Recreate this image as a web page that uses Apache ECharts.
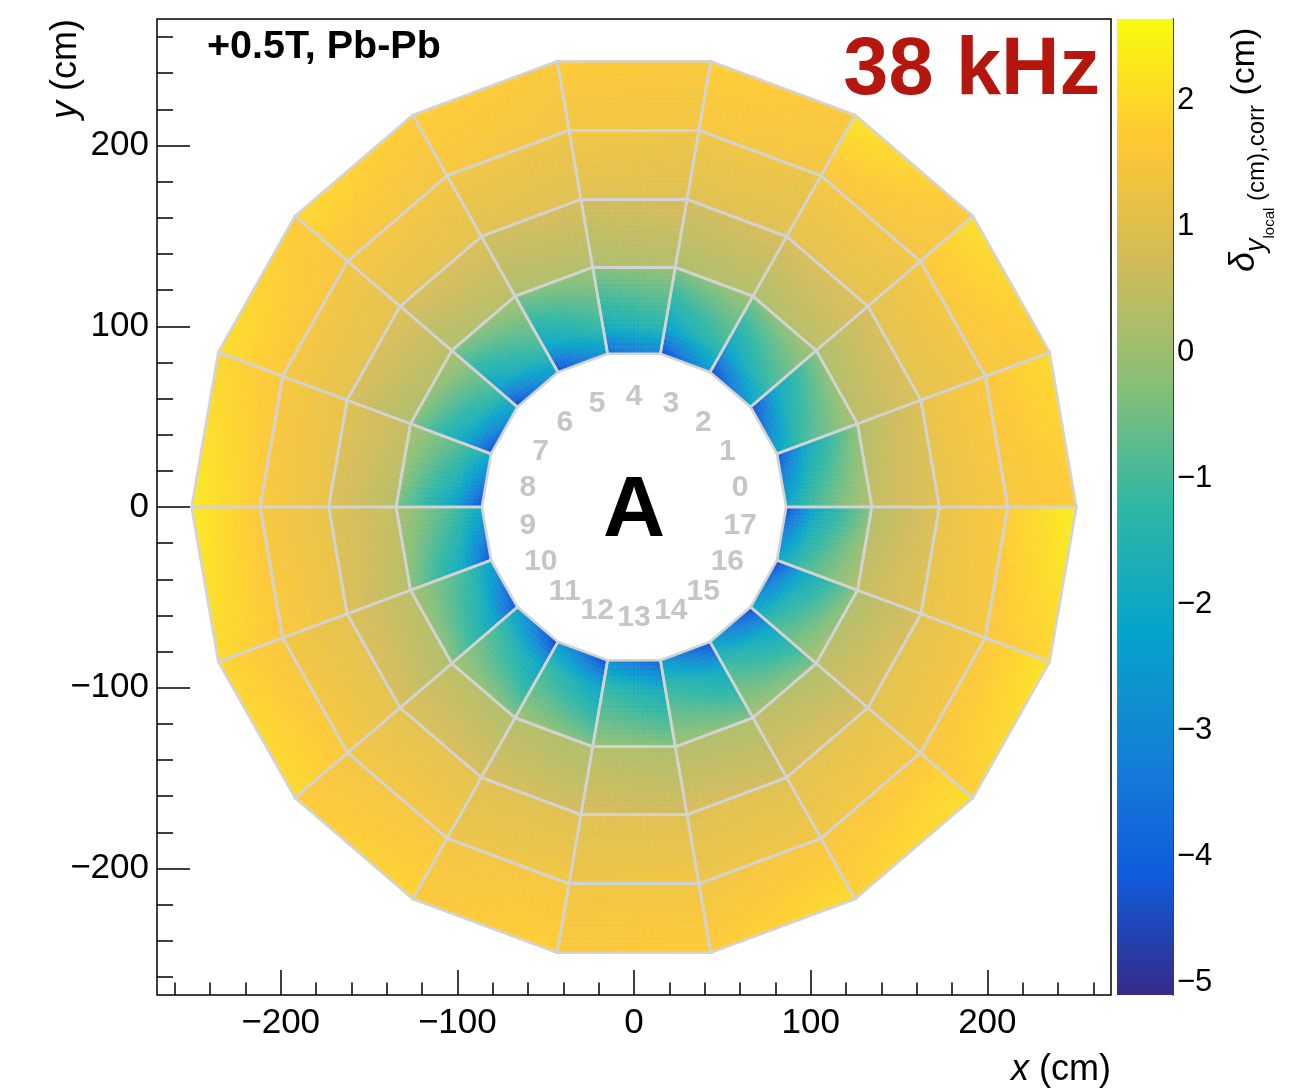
<!DOCTYPE html>
<html>
<head>
<meta charset="utf-8">
<script src="https://cdn.jsdelivr.net/npm/echarts@6/dist/echarts.min.js"></script>
<style>
  html, body { margin: 0; padding: 0; background: #fff; }
  #chart { width: 1307px; height: 1092px; }
</style>
</head>
<body>
<div id="chart"></div>
<script>
// TPC A side, local-y distortion correction per readout chamber (IROC, OROC1..3), 18 sectors

const sectorIds = [0, 1, 2, 3, 4, 5, 6, 7, 8, 9, 10, 11, 12, 13, 14, 15, 16, 17];

// chamber boundaries, distance from beam axis to the chamber edge at sector centre (cm)
const chamberEdges = [84.8, 132.6, 170.2, 208.4, 246.6];
// radial sampling nodes inside the IROC (cm)
const irocNodeRadii = [84.8, 101.0, 132.6];

// δy (cm) along the low-φ and high-φ side of every sector, inner -> outer
const irocLowEdge = [
  [-2.0, -0.9, 0.3], [-2.2, -1.0, 0.2], [-2.3, -1.0, 0.1], [-2.5, -1.1, 0.0], [-3.0, -1.3, -0.1], [-2.5, -1.1, 0.0],
  [-2.3, -1.0, 0.1], [-2.2, -1.0, 0.2], [-2.0, -0.9, 0.2], [-2.0, -0.9, 0.2], [-2.2, -1.0, 0.1], [-2.3, -1.0, 0.1],
  [-2.5, -1.1, 0.0], [-2.8, -1.2, -0.1], [-2.5, -1.1, 0.0], [-2.3, -1.0, 0.1], [-2.2, -1.0, 0.2], [-2.0, -0.9, 0.3]
];
const irocHighEdge = [
  [-4.4, -2.1, -0.2], [-4.6, -2.2, -0.3], [-4.7, -2.3, -0.4], [-4.6, -2.2, -0.4], [-3.8, -1.8, -0.3], [-4.6, -2.2, -0.4],
  [-4.7, -2.3, -0.4], [-4.6, -2.2, -0.3], [-4.5, -2.2, -0.4], [-4.4, -2.1, -0.3], [-4.6, -2.2, -0.3], [-4.8, -2.3, -0.4],
  [-4.6, -2.2, -0.4], [-4.1, -1.9, -0.3], [-4.6, -2.2, -0.4], [-4.7, -2.3, -0.4], [-4.6, -2.2, -0.3], [-4.5, -2.1, -0.3]
];
const oroc1LowEdge = [
  [0.5, 1.0], [0.4, 0.9], [0.4, 0.9], [0.3, 0.8], [0.3, 0.8], [0.3, 0.8],
  [0.4, 0.9], [0.4, 0.9], [0.5, 1.0], [0.5, 1.0], [0.4, 0.9], [0.4, 0.9],
  [0.3, 0.8], [0.3, 0.8], [0.3, 0.8], [0.4, 0.9], [0.4, 0.9], [0.5, 1.0]
];
const oroc1HighEdge = [
  [0.3, 0.9], [0.2, 0.8], [0.2, 0.8], [0.2, 0.7], [0.2, 0.7], [0.2, 0.7],
  [0.2, 0.8], [0.2, 0.8], [0.3, 0.9], [0.3, 0.9], [0.2, 0.8], [0.2, 0.8],
  [0.2, 0.7], [0.2, 0.7], [0.2, 0.7], [0.2, 0.8], [0.2, 0.8], [0.3, 0.9]
];
const oroc2LowEdge = [
  [1.2, 1.5], [1.1, 1.4], [1.1, 1.4], [1.0, 1.3], [1.0, 1.3], [1.0, 1.3],
  [1.1, 1.4], [1.1, 1.4], [1.2, 1.5], [1.2, 1.5], [1.1, 1.4], [1.1, 1.4],
  [1.0, 1.3], [1.0, 1.3], [1.0, 1.3], [1.1, 1.4], [1.1, 1.4], [1.2, 1.5]
];
const oroc2HighEdge = [
  [1.2, 1.6], [1.1, 1.5], [1.1, 1.5], [1.0, 1.4], [1.0, 1.4], [1.0, 1.4],
  [1.1, 1.5], [1.1, 1.5], [1.2, 1.6], [1.2, 1.6], [1.1, 1.5], [1.1, 1.5],
  [1.0, 1.4], [1.0, 1.4], [1.0, 1.4], [1.1, 1.5], [1.1, 1.5], [1.2, 1.6]
];
const oroc3LowEdge = [
  [1.5, 1.7], [1.5, 1.7], [1.4, 1.6], [1.4, 1.6], [1.4, 1.6], [1.4, 1.6],
  [1.4, 1.7], [1.5, 1.7], [1.6, 1.9], [1.6, 2.3], [1.5, 1.9], [1.4, 1.7],
  [1.4, 1.6], [1.4, 1.6], [1.4, 1.7], [1.5, 1.8], [1.5, 1.8], [1.6, 1.9]
];
const oroc3HighEdge = [
  [1.6, 2.0], [1.6, 2.1], [1.5, 2.2], [1.5, 1.8], [1.4, 1.7], [1.5, 1.8],
  [1.5, 2.0], [1.6, 2.1], [1.7, 2.3], [1.6, 2.0], [1.6, 2.0], [1.5, 1.9],
  [1.5, 1.8], [1.4, 1.7], [1.5, 2.0], [1.6, 2.1], [1.6, 2.2], [1.7, 2.4]
];

// axis ticks (cm) and colour-scale ticks (cm)
const xyMajorTicks = [-200, -100, 0, 100, 200];
const xyMinorTicks = [-260, -240, -220, -200, -180, -160, -140, -120, -100, -80, -60, -40, -20, 0,
  20, 40, 60, 80, 100, 120, 140, 160, 180, 200, 220, 240, 260];
const zTicks = [-5, -4, -3, -2, -1, 0, 1, 2];
const zRange = [-5.1, 2.65];

// kBird palette
const birdColors = ['#352a87', '#0f5cdd', '#1481d6', '#06a4ca', '#2eb7a4', '#87bf77', '#d1bb59', '#fec832', '#f9fb0e'];

const FONT = '"Liberation Sans", Arial, Helvetica, sans-serif';
const SECTOR_SPAN = Math.PI / 9;      // 20 degrees
const LABEL_RADIUS = 61;              // cm, ring of sector numbers

const chambers = [
  { radii: irocNodeRadii, low: irocLowEdge, high: irocHighEdge },
  { radii: [chamberEdges[1], chamberEdges[2]], low: oroc1LowEdge, high: oroc1HighEdge },
  { radii: [chamberEdges[2], chamberEdges[3]], low: oroc2LowEdge, high: oroc2HighEdge },
  { radii: [chamberEdges[3], chamberEdges[4]], low: oroc3LowEdge, high: oroc3HighEdge }
];

const cells = [];
sectorIds.forEach(function (s) {
  chambers.forEach(function (ch, k) {
    cells.push({ sector: s, chamber: k, radii: ch.radii, low: ch.low[s], high: ch.high[s] });
  });
});

// point on the straight chamber edge at distance `apothem`, fraction u from the low-φ side
function edgePoint(apothem, s, u) {
  const f0 = s * SECTOR_SPAN, f1 = f0 + SECTOR_SPAN;
  const rc = apothem / Math.cos(SECTOR_SPAN / 2);
  const x0 = rc * Math.cos(f0), y0 = rc * Math.sin(f0);
  const x1 = rc * Math.cos(f1), y1 = rc * Math.sin(f1);
  return [x0 + u * (x1 - x0), y0 + u * (y1 - y0)];
}

function zColor(v) {
  const t = Math.max(0, Math.min(1, (v - zRange[0]) / (zRange[1] - zRange[0])));
  return echarts.color.lerp(t, birdColors);
}

function renderChamberFill(params, api) {
  const c = cells[params.dataIndex];
  const children = [];
  const nu = 16;
  for (let n = 0; n < c.radii.length - 1; n++) {
    const ra = c.radii[n], rb = c.radii[n + 1];
    const nv = Math.max(4, Math.round((rb - ra) / 2.5));
    for (let j = 0; j < nv; j++) {
      const r0 = ra + (rb - ra) * j / nv, r1 = ra + (rb - ra) * (j + 1) / nv;
      const t = (j + 0.5) / nv;
      const vLow = c.low[n] * (1 - t) + c.low[n + 1] * t;
      const vHigh = c.high[n] * (1 - t) + c.high[n + 1] * t;
      for (let i = 0; i < nu; i++) {
        const u0 = i / nu, u1 = (i + 1) / nu, uc = (i + 0.5) / nu;
        const col = zColor(vLow * (1 - uc) + vHigh * uc);
        const pts = [edgePoint(r0, c.sector, u0), edgePoint(r0, c.sector, u1),
                     edgePoint(r1, c.sector, u1), edgePoint(r1, c.sector, u0)].map(function (p) { return api.coord(p); });
        children.push({ type: 'polygon', silent: true, shape: { points: pts },
          style: { fill: col, stroke: col, lineWidth: 0.8, opacity: 0.94 } });
      }
    }
  }
  return { type: 'group', children: children };
}

function renderChamberFrame(params, api) {
  const c = cells[params.dataIndex];
  const a = chamberEdges[c.chamber], b = chamberEdges[c.chamber + 1];
  const pts = [edgePoint(a, c.sector, 0), edgePoint(a, c.sector, 1),
               edgePoint(b, c.sector, 1), edgePoint(b, c.sector, 0)].map(function (p) { return api.coord(p); });
  return { type: 'polygon', silent: true, shape: { points: pts },
    style: { fill: null, stroke: '#d3d3d3', lineWidth: 2.6, lineJoin: 'miter' } };
}

function renderColorBar(params, api) {
  const p0 = api.coord([0, zRange[0]]);
  const p1 = api.coord([1, zRange[1]]);
  const stops = birdColors.map(function (c, i) { return { offset: i / (birdColors.length - 1), color: c }; });
  return { type: 'rect', silent: true,
    shape: { x: p0[0], y: p1[1], width: p1[0] - p0[0], height: p0[1] - p1[1] },
    style: { fill: new echarts.graphic.LinearGradient(0, 1, 0, 0, stops) } };
}

const minus = function (v) { return String(v).replace('-', '\u2212'); };

const sectorLabels = sectorIds.map(function (s) {
  const phi = (s + 0.5) * SECTOR_SPAN;
  return { name: String(s), value: [LABEL_RADIUS * Math.cos(phi), LABEL_RADIUS * Math.sin(phi)] };
});

// colour-axis title pieces, laid out along the rotated baseline
const measureCtx = document.createElement('canvas').getContext('2d');
function textWidth(str, style, size) {
  measureCtx.font = style + ' ' + size + 'px ' + FONT;
  return measureCtx.measureText(str).width;
}
const zTitleParts = [
  { text: '\u03b4', style: 'italic', size: 36, drop: 0 },
  { text: 'y', style: 'italic', size: 27, drop: 9 },
  { text: 'local', style: 'normal', size: 15, drop: 18 },
  { text: ' (cm),corr', style: 'normal', size: 24, drop: 9 },
  { text: ' (cm)', style: 'normal', size: 34, drop: 0 }
];
let cursor = 0;
const zTitleChildren = zTitleParts.map(function (p) {
  const el = { type: 'text', x: cursor, y: p.drop - 0.35 * p.size,
    style: { text: p.text, fontFamily: FONT, fontSize: p.size, fontStyle: p.style,
      fill: '#000', align: 'left', verticalAlign: 'middle' } };
  cursor += textWidth(p.text, p.style, p.size);
  return el;
});

const chart = echarts.init(document.getElementById('chart'), null, { renderer: 'canvas' });

const axisTextStyle = { color: '#000', fontFamily: FONT, fontSize: 35 };

chart.setOption({
  animation: false,
  backgroundColor: '#fff',
  grid: [
    { left: 157, top: 19, width: 954, height: 976, show: true, borderColor: '#000', borderWidth: 1.5, backgroundColor: 'transparent' },
    { left: 1117, top: 19, width: 56, height: 976, show: false }
  ],
  xAxis: [
    { gridIndex: 0, type: 'value', min: -270, max: 270, position: 'bottom',
      axisLine: { show: false, onZero: false }, splitLine: { show: false },
      axisTick: { show: true, inside: true, length: 25, customValues: xyMajorTicks, lineStyle: { color: '#000', width: 1.5 } },
      axisLabel: Object.assign({ customValues: xyMajorTicks, margin: 11, formatter: minus }, axisTextStyle) },
    { gridIndex: 0, type: 'value', min: -270, max: 270, position: 'bottom',
      axisLine: { show: false, onZero: false }, splitLine: { show: false },
      axisTick: { show: true, inside: true, length: 12.5, customValues: xyMinorTicks, lineStyle: { color: '#000', width: 1.5 } },
      axisLabel: { show: false } },
    { gridIndex: 1, type: 'value', min: 0, max: 1, show: false }
  ],
  yAxis: [
    { gridIndex: 0, type: 'value', min: -270, max: 270, position: 'left',
      axisLine: { show: false, onZero: false }, splitLine: { show: false },
      axisTick: { show: true, inside: true, length: 33, customValues: xyMajorTicks, lineStyle: { color: '#000', width: 1.5 } },
      axisLabel: Object.assign({ customValues: xyMajorTicks, margin: 8, formatter: minus }, axisTextStyle) },
    { gridIndex: 0, type: 'value', min: -270, max: 270, position: 'left',
      axisLine: { show: false, onZero: false }, splitLine: { show: false },
      axisTick: { show: true, inside: true, length: 16, customValues: xyMinorTicks, lineStyle: { color: '#000', width: 1.5 } },
      axisLabel: { show: false } },
    { gridIndex: 1, type: 'value', min: zRange[0], max: zRange[1], position: 'right',
      axisLine: { show: true, onZero: false, lineStyle: { color: '#000', width: 1.5 } }, splitLine: { show: false },
      axisTick: { show: true, inside: true, length: 31, customValues: zTicks, lineStyle: { color: '#000', width: 1.5 } },
      axisLabel: { customValues: zTicks, margin: 4, formatter: minus, color: '#000', fontFamily: FONT, fontSize: 31 } }
  ],
  series: [
    { type: 'custom', name: 'chamber fill', xAxisIndex: 0, yAxisIndex: 0, clip: false,
      renderItem: renderChamberFill, data: cells.map(function (c) { return [c.sector, c.chamber]; }), silent: true },
    { type: 'custom', name: 'chamber frame', xAxisIndex: 0, yAxisIndex: 0, clip: false,
      renderItem: renderChamberFrame, data: cells.map(function (c) { return [c.sector, c.chamber]; }), silent: true },
    { type: 'scatter', name: 'sector numbers', xAxisIndex: 0, yAxisIndex: 0, symbolSize: 0, silent: true,
      itemStyle: { opacity: 1 },
      data: sectorLabels,
      label: { show: true, position: 'inside', formatter: '{b}', color: '#c6c6c6', opacity: 1,
        fontFamily: FONT, fontWeight: 'bold', fontSize: 30 } },
    { type: 'scatter', name: 'side', xAxisIndex: 0, yAxisIndex: 0, symbolSize: 0, silent: true,
      itemStyle: { opacity: 1 },
      data: [{ name: 'A', value: [0, 0] }],
      label: { show: true, position: 'inside', offset: [0, 5], formatter: '{b}', color: '#000', opacity: 1,
        fontFamily: FONT, fontWeight: 'bold', fontSize: 86 } },
    { type: 'custom', name: 'colour scale', xAxisIndex: 2, yAxisIndex: 2, silent: true,
      renderItem: renderColorBar, data: [[0, zRange[0], 1, zRange[1]]], encode: { x: [0, 2], y: [1, 3] } }
  ],
  graphic: [
    { type: 'text', x: 207, y: 47, silent: true,
      style: { text: '+0.5T, Pb-Pb', fontFamily: FONT, fontWeight: 'bold', fontSize: 39.5, fill: '#000', align: 'left', verticalAlign: 'middle' } },
    { type: 'text', x: 1100, y: 72, silent: true,
      style: { text: '38 kHz', fontFamily: FONT, fontWeight: 'bold', fontSize: 81, fill: '#b5170f', align: 'right', verticalAlign: 'middle' } },
    { type: 'text', x: 1111, y: 1070, silent: true,
      style: { text: '{i|x} (cm)', fontFamily: FONT, fontSize: 36, fill: '#000', align: 'right', verticalAlign: 'middle',
        rich: { i: { fontFamily: FONT, fontSize: 36, fontStyle: 'italic', fill: '#000' } } } },
    { type: 'text', x: 66, y: 19, rotation: Math.PI / 2, silent: true,
      style: { text: '{i|y} (cm)', fontFamily: FONT, fontSize: 36, fill: '#000', align: 'right', verticalAlign: 'middle',
        rich: { i: { fontFamily: FONT, fontSize: 36, fontStyle: 'italic', fill: '#000' } } } },
    { type: 'group', x: 1257, y: 272, rotation: Math.PI / 2, silent: true, children: zTitleChildren }
  ]
});
</script>
</body>
</html>
